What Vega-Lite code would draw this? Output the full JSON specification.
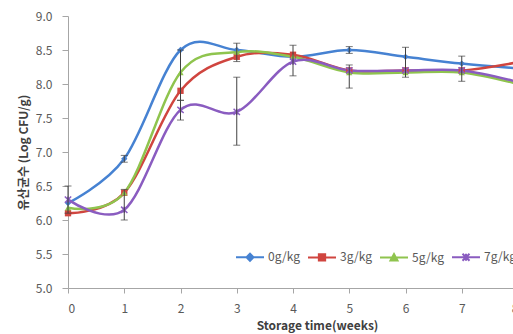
{
  "$schema": "https://vega.github.io/schema/vega-lite/v6.json",
  "width": 450,
  "height": 272,
  "autosize": "none",
  "padding": {"left": 68, "top": 16, "right": 0, "bottom": 46},
  "background": "white",
  "config": {
    "view": {"stroke": null},
    "font": "Noto Sans CJK KR",
    "axis": {
      "grid": false,
      "domainColor": "#a6a6a6",
      "tickColor": "#a6a6a6",
      "labelColor": "#595959",
      "labelFontSize": 12,
      "titleColor": "#404040",
      "titleFontWeight": "bold",
      "titleFontSize": 12
    }
  },
  "datasets": {
    "series": [
      {"week": 0, "dose": "0g/kg", "cfu": 6.25},
      {"week": 1, "dose": "0g/kg", "cfu": 6.9},
      {"week": 2, "dose": "0g/kg", "cfu": 8.5},
      {"week": 3, "dose": "0g/kg", "cfu": 8.5},
      {"week": 4, "dose": "0g/kg", "cfu": 8.4},
      {"week": 5, "dose": "0g/kg", "cfu": 8.5},
      {"week": 6, "dose": "0g/kg", "cfu": 8.4},
      {"week": 7, "dose": "0g/kg", "cfu": 8.3},
      {"week": 8, "dose": "0g/kg", "cfu": 8.23},
      {"week": 0, "dose": "3g/kg", "cfu": 6.1},
      {"week": 1, "dose": "3g/kg", "cfu": 6.4},
      {"week": 2, "dose": "3g/kg", "cfu": 7.9},
      {"week": 3, "dose": "3g/kg", "cfu": 8.4},
      {"week": 4, "dose": "3g/kg", "cfu": 8.43},
      {"week": 5, "dose": "3g/kg", "cfu": 8.2},
      {"week": 6, "dose": "3g/kg", "cfu": 8.2},
      {"week": 7, "dose": "3g/kg", "cfu": 8.2},
      {"week": 8, "dose": "3g/kg", "cfu": 8.32},
      {"week": 0, "dose": "5g/kg", "cfu": 6.18},
      {"week": 1, "dose": "5g/kg", "cfu": 6.4},
      {"week": 2, "dose": "5g/kg", "cfu": 8.17},
      {"week": 3, "dose": "5g/kg", "cfu": 8.47},
      {"week": 4, "dose": "5g/kg", "cfu": 8.4},
      {"week": 5, "dose": "5g/kg", "cfu": 8.17},
      {"week": 6, "dose": "5g/kg", "cfu": 8.17},
      {"week": 7, "dose": "5g/kg", "cfu": 8.17},
      {"week": 8, "dose": "5g/kg", "cfu": 8.0},
      {"week": 0, "dose": "7g/kg", "cfu": 6.3},
      {"week": 1, "dose": "7g/kg", "cfu": 6.15},
      {"week": 2, "dose": "7g/kg", "cfu": 7.62},
      {"week": 3, "dose": "7g/kg", "cfu": 7.59},
      {"week": 4, "dose": "7g/kg", "cfu": 8.33},
      {"week": 5, "dose": "7g/kg", "cfu": 8.2},
      {"week": 6, "dose": "7g/kg", "cfu": 8.2},
      {"week": 7, "dose": "7g/kg", "cfu": 8.2},
      {"week": 8, "dose": "7g/kg", "cfu": 8.03}
    ],
    "err": [
      {"week": 0, "lo": 6.1, "hi": 6.5},
      {"week": 1, "lo": 6.85, "hi": 6.95},
      {"week": 1, "lo": 6.0, "hi": 6.45},
      {"week": 2, "lo": 7.47, "hi": 8.5},
      {"week": 2, "lo": 7.76, "hi": 7.76},
      {"week": 3, "lo": 8.33, "hi": 8.6},
      {"week": 3, "lo": 7.1, "hi": 8.1},
      {"week": 4, "lo": 8.12, "hi": 8.57},
      {"week": 5, "lo": 8.45, "hi": 8.55},
      {"week": 5, "lo": 7.94, "hi": 8.28},
      {"week": 6, "lo": 8.1, "hi": 8.54},
      {"week": 7, "lo": 8.04, "hi": 8.41},
      {"week": 8, "lo": 7.95, "hi": 8.35}
    ]
  },
  "encoding": {
    "x": {
      "field": "week", "type": "quantitative",
      "scale": {"domain": [0, 8], "nice": false, "zero": false},
      "axis": {
        "values": [0, 1, 2, 3, 4, 5, 6, 7, 8],
        "format": "d",
        "tickSize": 5,
        "labelPadding": 10,
        "title": "Storage time(weeks)",
        "titleX": 249,
        "titlePadding": 6
      }
    },
    "y": {
      "field": "cfu", "type": "quantitative",
      "scale": {"domain": [5, 9], "nice": false, "zero": false},
      "axis": {
        "values": [5, 5.5, 6, 6.5, 7, 7.5, 8, 8.5, 9],
        "format": ".1f",
        "tickSize": 6,
        "labelPadding": 10,
        "title": "유산균수 (Log CFU/g)",
        "titlePadding": 5
      }
    },
    "color": {
      "field": "dose", "type": "nominal",
      "scale": {"domain": ["0g/kg", "3g/kg", "5g/kg", "7g/kg"], "range": ["#4682D2", "#D0453F", "#8FC44E", "#8A5CC0"]},
      "legend": {
        "orient": "none",
        "direction": "horizontal",
        "legendX": 176,
        "legendY": 235,
        "title": null,
        "padding": 0,
        "symbolSize": 49,
        "symbolStrokeWidth": 2,
        "labelOffset": 12,
        "columnPadding": 3,
        "labelFontSize": 12,
        "labelColor": "#595959",
        "encode": {
          "symbols": {
            "update": {
              "shape": {"signal": "datum.value == '0g/kg' ? 'M-4,0H4M0,-1L1,0L0,1L-1,0Z' : datum.value == '3g/kg' ? 'M-4,0H4M-0.9,-0.9H0.9V0.9H-0.9Z' : datum.value == '5g/kg' ? 'M-4,0H4M0,-1L1,0.8H-1Z' : 'M-4,0H4M-1,-1L1,1M-1,1L1,-1M0,-1V1'"},
              "stroke": {"scale": "color", "field": "value"},
              "fill": {"scale": "color", "field": "value"},
              "strokeWidth": {"value": 2},
              "opacity": {"value": 1}
            }
          }
        }
      }
    }
  },
  "layer": [
    {
      "data": {"name": "series"},
      "mark": {"type": "line", "interpolate": "cardinal", "strokeWidth": 2.5}
    },
    {
      "data": {"name": "series"},
      "transform": [{"filter": "datum.dose == '0g/kg'"}],
      "mark": {"type": "point", "filled": true, "shape": "diamond", "size": 40, "opacity": 1}
    },
    {
      "data": {"name": "series"},
      "transform": [{"filter": "datum.dose == '3g/kg'"}],
      "mark": {"type": "point", "filled": true, "shape": "square", "size": 40, "opacity": 1}
    },
    {
      "data": {"name": "series"},
      "transform": [{"filter": "datum.dose == '5g/kg'"}],
      "mark": {"type": "point", "filled": true, "shape": "triangle-up", "size": 40, "opacity": 1}
    },
    {
      "data": {"name": "series"},
      "transform": [{"filter": "datum.dose == '7g/kg'"}],
      "mark": {"type": "point", "filled": false, "shape": "M-1,-1L1,1M-1,1L1,-1M0,-1V1", "size": 40, "strokeWidth": 1.5, "opacity": 1}
    },
    {
      "data": {"name": "err"},
      "mark": {"type": "rule", "color": "#404040", "strokeWidth": 1},
      "encoding": {
        "y": {"field": "lo", "type": "quantitative"},
        "y2": {"field": "hi"},
        "color": null
      }
    },
    {
      "data": {"name": "err"},
      "mark": {"type": "tick", "orient": "horizontal", "color": "#404040", "size": 7, "thickness": 1},
      "encoding": {
        "y": {"field": "lo", "type": "quantitative"},
        "color": null
      }
    },
    {
      "data": {"name": "err"},
      "mark": {"type": "tick", "orient": "horizontal", "color": "#404040", "size": 7, "thickness": 1},
      "encoding": {
        "y": {"field": "hi", "type": "quantitative"},
        "color": null
      }
    }
  ]
}
